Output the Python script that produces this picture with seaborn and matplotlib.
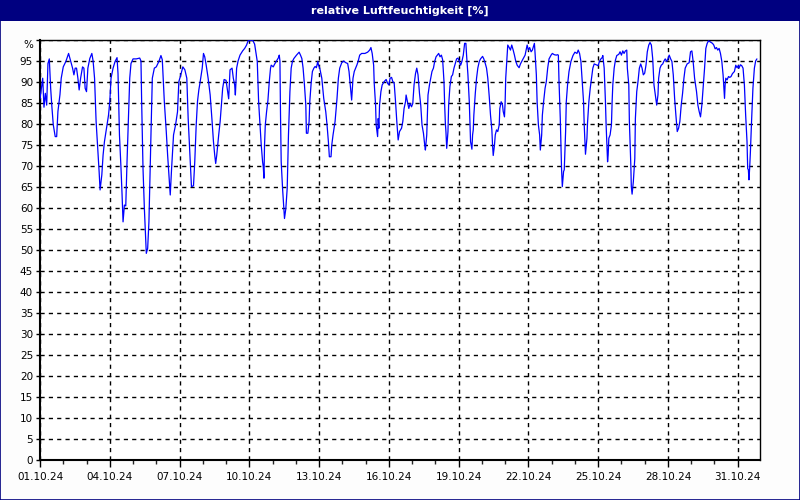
import matplotlib
matplotlib.use("Agg")
import matplotlib.pyplot as plt
from matplotlib.patches import Rectangle
import matplotlib.transforms as mtransforms
import seaborn as sns
import pandas as pd

# ---- data: hours since 01.10.24 00:00 and relative humidity [%] ----
hours = [0, 2.8, 4.1, 5.5, 6.9, 8.2, 9.6, 11.0, 12.3, 13.7, 15.7, 17.2, 18.5, 20.6, 21.9, 24.0, 26.7, 29.5,
         31.6, 33.6, 35.0, 36.3, 37.7, 39.1, 40.4, 41.9, 43.9, 45.3, 46.6, 48.0, 49.4, 51.4, 53.5, 54.8,
         56.3, 57.9, 59.7, 61.0, 62.0, 63.8, 65.1, 66.5, 68.6, 70.7, 72.0, 73.3, 75.4, 77.5, 79.5, 80.5,
         82.0, 83.6, 84.7, 85.7, 87.1, 88.5, 89.8, 91.2, 92.6, 93.9, 96.0, 99.4, 102.9, 104.2, 104.9, 106.3,
         107.7, 109.0, 109.7, 111.1, 112.4, 113.1, 114.5, 115.9, 118.0, 120.0, 122.7, 124.8, 126.2, 128.3,
         130.3, 131.7, 133.0, 134.4, 135.8, 137.8, 139.9, 141.9, 143.3, 145.3, 147.4, 149.5, 151.5, 152.9,
         155.0, 156.3, 158.4, 159.7, 161.2, 162.5, 163.9,
         165.3, 167.4, 168.7, 170.0, 171.5, 173.5, 175.6, 177.6, 179.0, 180.3, 181.3, 182.4, 184.4, 185.9,
         187.2, 188.5, 190.0, 192.0, 193.4, 194.7, 196.1, 198.2, 199.5, 200.9, 201.6, 202.9, 204.4, 206.4,
         209.1, 211.2, 213.2, 214.7, 219.4, 221.5, 222.9, 224.2, 225.6, 227.0, 228.3, 229.7, 230.4, 231.1,
         231.7, 232.5, 233.8, 235.2, 236.6, 237.9, 238.6, 240.7, 242.0, 244.1, 246.1,
         246.9, 247.6, 248.2, 248.9, 250.3, 251.7, 252.3, 253.7, 255.1, 256.4, 257.9, 259.2, 260.5, 262.0,
         264.7, 267.4, 268.8, 270.2, 271.5, 272.9, 274.3, 274.9, 276.4, 277.7, 278.4, 279.8, 281.1, 282.6,
         283.9, 285.2, 286.7, 287.3, 288.7, 290.8, 292.8, 294.9, 296.2, 297.6, 298.6, 300.3, 301.1, 302.4,
         304.5, 306.5, 307.9, 309.3, 311.4, 313.4, 315.5, 317.5, 318.9, 320.2, 321.6, 323.0, 324.3, 325.7,
         327.1, 328.4,
         329.9, 331.9, 335.3, 338.1, 340.2, 341.5, 342.8, 344.3, 344.9, 346.3, 346.9, 348.4, 349.0, 349.7,
         350.4, 351.8, 353.1, 355.2, 357.2, 358.7, 360.0, 361.3, 362.8, 364.1, 365.5, 366.9, 368.2, 369.6,
         371.0, 373.1, 374.4, 375.7, 377.2, 377.8, 379.2, 380.6, 381.9, 383.4, 384.7, 386.0, 387.5, 388.8,
         390.1, 391.6, 392.9, 394.2, 395.7, 397.0, 397.7, 399.1, 400.4, 401.9, 403.2, 404.5, 406.0, 407.3,
         408.7,
         411.4, 412.8, 414.2, 415.5, 416.9, 417.6, 418.3, 418.9, 419.7, 421.0, 421.7, 423.0, 424.5, 425.8,
         427.2, 428.6, 429.9, 431.3, 432.7, 434.1, 435.4, 436.8, 438.2, 439.5, 440.2, 441.6, 443.0, 443.6,
         444.3, 445.7, 446.4, 447.1, 447.7, 449.2, 450.5, 451.8, 453.3, 454.6, 456.7, 458.0, 459.5, 460.8,
         462.1, 463.6, 464.9, 466.3, 467.0, 467.7, 469.0, 469.8, 471.1, 472.4, 473.9, 474.5, 475.9, 477.3,
         478.0, 479.3, 480.0, 480.6, 482.1, 482.7, 484.2, 485.5, 486.8, 488.3, 489.6, 490.9, 492.4,
         494.4, 495.8, 497.8, 500.6, 502.7, 504.0, 505.3, 506.8, 508.1, 510.2, 510.9, 512.2, 513.0, 514.3,
         515.6, 516.3, 517.7, 518.4, 519.7, 521.2, 522.5, 523.9, 525.3, 527.4, 528.7, 530.7, 532.8, 534.1,
         534.9, 535.6, 536.9, 537.6, 538.2, 539.0, 540.3, 541.0, 542.4, 543.1, 544.4, 545.9, 547.9, 550.0,
         552.0, 554.1, 555.4, 556.8, 558.2, 559.5, 560.9, 561.6, 562.3, 562.9, 564.4, 565.0, 566.4, 567.8,
         569.1, 570.5, 571.9, 573.9,
         576.0, 577.3, 578.8, 580.1, 580.8, 582.2, 583.5, 584.2, 585.7, 586.3, 587.0, 588.3, 589.7, 590.4,
         591.1, 592.5, 593.8, 595.2, 597.3, 598.6, 600.0, 601.4, 602.7, 604.1, 605.5, 606.1, 607.6, 608.2,
         609.7, 610.2, 611.0, 612.3, 613.8, 614.4, 615.8, 617.1, 618.5, 619.9, 621.3, 622.6, 624.0, 625.4,
         626.7, 628.2, 629.5, 630.9, 632.3, 633.6, 635.0, 636.4, 637.7, 638.4, 639.8, 641.1, 642.6, 643.9,
         645.2, 646.7, 648.0, 649.3, 650.8, 652.1, 653.5, 654.9, 656.2, 657.6,
         659.0, 660.3, 661.7, 663.1, 664.5, 665.8, 667.8, 669.9, 671.3, 672.7, 674.0, 675.5, 677.5, 678.9,
         680.2, 681.6, 683.0, 684.3, 685.8, 687.1, 688.5, 689.9, 691.9, 694.0, 695.3, 696.7, 698.1, 699.4,
         700.8, 702.2, 703.6, 704.9, 706.4, 707.0, 707.7, 709.0, 710.5, 711.8, 713.1, 714.6, 716.6, 718.0,
         719.3, 720.7, 721.3, 722.8, 724.1, 725.5, 726.9, 728.2, 729.6, 730.3, 731.0, 731.6, 732.3, 733.1,
         734.4, 735.7, 737.2, 738.5, 739.8]

rh = [86, 90.9, 84, 87.3, 84.5, 94.4, 95.5, 88.5, 84, 79.8, 77, 77, 83, 87, 90.9, 93.6, 94.9, 96.8,
      95, 93.3, 91.7, 93.3, 93.3, 90.9, 88.1, 90.9, 93.6, 93.3, 88.5, 87.7, 93.3, 95.6, 96.8, 95,
      90.9, 80.6, 73.8, 68.7, 64.3, 67.9, 72.6, 75.8, 79, 82.1, 85.3, 90.9, 93.3, 94.9, 95.8, 92,
      77.4, 69.4, 63.1, 56.7, 60.7, 60.5, 71, 81.3, 90.9, 94.4, 95.5, 95.5, 95.7, 95, 85.3, 69.4,
      59.9, 52.8, 49.2, 50.4, 56.7, 63.9, 77.4, 90.9, 93.3, 93.6, 94.9, 96.3, 95.3, 85.3,
      78.2, 72.6, 67.9, 63.1, 69.4, 77.4, 79.8, 82.9, 90.1, 91.7, 93.6, 92.9, 90.9, 81.3,
      71, 65.1, 65.3, 71, 79.8, 85.3, 88.1,
      90.1, 93.3, 96.8, 96, 94, 90.9, 86.9, 80.6, 75.8, 72.6, 70.6, 72.6, 77.4, 80.6,
      84.5, 88.5, 90.6, 90.4, 88.1, 86, 92.9, 93.3, 90.9, 89.3, 86.9, 93.3, 95, 96.4,
      97.4, 98, 98.8, 99.8, 100, 99, 96.8, 94.9, 85.3, 79.8, 75, 71, 69.8, 67.1,
      75, 79.8, 82.9, 85.6, 90.1, 93.3, 94, 93.6, 94.2, 95, 95.8,
      96.4, 95, 82.1, 71, 64.7, 59.9, 57.5, 59.9, 64.7, 77.4, 87.7, 93.3, 94.9, 95.6,
      96.4, 97.1, 96.4, 95.6, 93.3, 89.3, 84.5, 77.8, 77.8, 80.6, 85.3, 89.7, 92.5, 93.3,
      93.7, 93.4, 94.9, 94.1, 93.3, 90.9, 86.1, 82.9, 79.8, 75.8, 72.2, 72.2, 75, 77.4,
      80.6, 86.1, 90.9, 93.3, 94.6, 95, 94.6, 94.4, 92.5, 89.3, 85.7, 90.9, 92.5, 93.3,
      94.1, 95,
      96.4, 96.8, 96.8, 97.1, 97.6, 98.2, 96.8, 94, 89.7, 84.5, 79.8, 77, 81.3, 79,
      84.5, 87.7, 89.3, 90.1, 90.6, 89.7, 89.3, 90.9, 91.1, 90.1, 89.7, 85.3, 80.6, 76.2,
      78.2, 79, 80.6, 83.7, 85.3, 86.9, 85.3, 83.7, 84.9, 84.1, 84.9, 89.3, 92, 93.3,
      91.7, 87.3, 84.5, 79.8, 77.8, 75, 73.8, 77.4, 86.9, 89.3, 90.9, 92.5, 93.3, 94.9,
      96,
      96.8, 96, 96.4, 95.3, 90.1, 84.5, 80.2, 78.2, 74.2, 78.2, 84.5, 88.9, 91.3, 91.7,
      93.3, 94.4, 95.5, 95.7, 94.9, 94, 94.9, 96.4, 99.2, 99.2, 96.4, 91.7, 85.3, 80.6,
      75.8, 74, 77.4, 78.6, 82.1, 87.3, 90.9, 93.3, 94.9, 95.5, 96.1, 95.5, 94.4, 93.3,
      90.9, 86.5, 82.1, 78.6, 75, 72.5, 75, 77.4, 78.6, 78.2, 79.8, 83.7, 85.3, 84.5,
      83, 81.7, 85.3, 90.9, 96.4, 98.8, 98.2, 97.6, 98.8, 97.6, 96.4, 95, 94,
      93.4, 94.3, 95.2, 96.4, 98.8, 97.6, 98.2, 97.2, 97.6, 99.2, 96.8, 91.7, 85.3, 79.8,
      77.4, 73.8, 77.4, 82.1, 85.3, 88.5, 90.1, 93.3, 95.5, 96.4, 96.8, 96.5, 96.4, 96.5,
      96.4, 90.1, 81.3, 75, 69.4, 65.1, 68.7, 69.1, 78.2, 85.3, 89.3, 92.5, 94.9, 96.3,
      97.1, 96.8, 97.6, 96.8, 94.9, 90.1, 85.3, 79.8, 75.8, 72.8, 76.6, 80.2, 85.3, 88.5,
      90.9, 93.3, 94.3, 94.1,
      93.9, 94.9, 95.5, 95.8, 96.3, 93.3, 85.3, 79.8, 71, 72.6, 76.6, 77.4, 79.8, 85.3,
      89.3, 93.3, 95.2, 96.3, 96.6, 97.2, 96.4, 97.4, 96.8, 97.4, 97.6, 93.3, 89.3, 80.6,
      70.2, 65.1, 63.3, 66.3, 71.8, 81.3, 87.7, 90.1, 93.3, 94.3, 93.3, 91.7, 92.1, 94.1,
      97.2, 98.8, 99.4, 98.8, 95.5, 89.3, 86.9, 84.5, 86.9, 90.9, 93.3, 94, 94.3, 95,
      95.5, 94.9, 95.5, 96.4, 95.5, 94.9, 91.7, 86.1, 82.1, 78.2,
      79, 80.6, 84.5, 87.3, 90.9, 93.3, 94.3, 94.6, 97.2, 97.4, 94.9, 90.9, 87.7, 84.5,
      83, 81.7, 84.5, 88.5, 93.3, 98, 99.2, 99.8, 99.5, 99.2, 98.8, 97.9, 98.2, 97.6,
      98, 96.8, 94.9, 91.7, 86.1, 89.3, 90.9, 90.5, 91.3, 91.1, 91.3, 92, 92.5, 94,
      93.4, 93.9, 93.3, 94.1, 93.9, 93.3, 89.3, 82.1, 75.8, 69.4, 69.1, 66.7, 69.4, 73.4,
      81.3, 88.5, 93.3, 95, 95.5]

tick_hours = [0, 72, 144, 216, 288, 360, 432, 504, 576, 648, 720]
tick_labels = ["01.10.24", "04.10.24", "07.10.24", "10.10.24", "13.10.24", "16.10.24",
               "19.10.24", "22.10.24", "25.10.24", "28.10.24", "31.10.24"]
y_ticks = list(range(0, 101, 5))
y_labels = [str(v) for v in range(0, 100, 5)] + ["%"]
title = "relative Luftfeuchtigkeit [%]"

df = pd.DataFrame({"h": hours, "rh": rh})

sns.set_style("white")
plt.rcParams["font.family"] = ["DejaVu Sans"]

fig = plt.figure(figsize=(8, 5), dpi=100)
fig.patch.set_facecolor("#fdfdfd")

# title bar and outer frame
fig.patches.append(Rectangle((0, 479 / 500), 1, 21 / 500, transform=fig.transFigure,
                             facecolor="#000080", edgecolor="none", zorder=0))
fig.patches.append(Rectangle((0.0006, 0.001), 0.9988, 0.998, transform=fig.transFigure,
                             facecolor="none", edgecolor="#000080", linewidth=1.2, zorder=5))
fig.text(0.5, 489.5 / 500, title, color="white", fontsize=8, fontweight="bold",
         ha="center", va="center")

ax = fig.add_axes([40 / 800, 40 / 500, 720 / 800, 420 / 500])
ax.set_facecolor("white")

sns.lineplot(data=df, x="h", y="rh", ax=ax, color="#0000ff", linewidth=0.9,
             estimator=None, sort=False, zorder=3)

ax.set_xlim(0, 743)
ax.set_ylim(0, 100)
ax.set_xticks(tick_hours)
ax.set_xticklabels(tick_labels)
ax.set_xticks(range(0, 744, 24), minor=True)
ax.set_yticks(y_ticks)
ax.set_yticklabels(y_labels)
ax.set_xlabel("")
ax.set_ylabel("")

ax.tick_params(axis="x", which="major", direction="out", length=5, width=1, pad=4,
               labelsize=7.5, colors="black", bottom=True)
ax.tick_params(axis="x", which="minor", direction="out", length=3, width=1, bottom=True)
ax.tick_params(axis="y", which="major", direction="out", length=3, width=1, pad=2,
               labelsize=7.5, colors="black", left=True)

# shift "%" label slightly down like the reference
lbl = ax.get_yticklabels()[-1]
lbl.set_transform(lbl.get_transform() + mtransforms.ScaledTranslation(0, -3 / 72, fig.dpi_scale_trans))

ax.grid(True, which="major", color="black", linestyle=(0, (3, 3)), linewidth=1)
ax.set_axisbelow(True)
for s in ax.spines.values():
    s.set_visible(True)
    s.set_color("black")
    s.set_linewidth(1)
ax.spines["left"].set_linewidth(1.5)
ax.spines["bottom"].set_linewidth(1.5)

fig.savefig("out.png", dpi=100, facecolor=fig.get_facecolor())
